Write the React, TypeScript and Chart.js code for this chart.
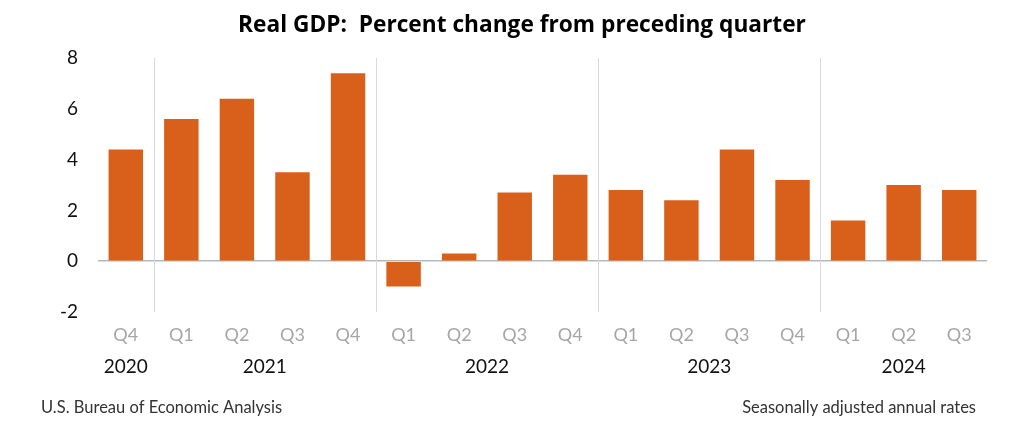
import React, { useEffect, useRef } from "react";
import { Chart, registerables } from "chart.js";

Chart.register(...registerables);

const quarters: string[] = ["Q4", "Q1", "Q2", "Q3", "Q4", "Q1", "Q2", "Q3", "Q4", "Q1", "Q2", "Q3", "Q4", "Q1", "Q2", "Q3"];
const gdpChange: number[] = [4.4, 5.6, 6.4, 3.5, 7.4, -1.0, 0.3, 2.7, 3.4, 2.8, 2.4, 4.4, 3.2, 1.6, 3.0, 2.8];
const years: string[] = ["2020", "2021", "2022", "2023", "2024"];
const yearStart: number[] = [0, 1, 5, 9, 13];
const yearEnd: number[] = [0, 4, 8, 12, 15];
const titleText = "Real GDP:  Percent change from preceding quarter";
const sourceText = "U.S. Bureau of Economic Analysis";
const noteText = "Seasonally adjusted annual rates";

const FONT = "Lato, 'Open Sans', sans-serif";
const TITLE_FONT = "'Open Sans', Lato, sans-serif";

const overlay = {
  id: "overlay",
  afterDraw(chart: any) {
    const ctx = chart.ctx;
    const x = chart.scales.x;
    const area = chart.chartArea;
    ctx.save();
    // separators between years
    ctx.strokeStyle = "#d9d9d9";
    ctx.lineWidth = 1;
    for (let i = 1; i < yearStart.length; i++) {
      const px = Math.round((x.getPixelForValue(yearStart[i] - 1) + x.getPixelForValue(yearStart[i])) / 2) + 0.5;
      ctx.beginPath();
      ctx.moveTo(px, area.top);
      ctx.lineTo(px, area.bottom);
      ctx.stroke();
    }
    // year labels
    ctx.fillStyle = "#111";
    ctx.font = `19px ${FONT}`;
    ctx.textAlign = "center";
    ctx.textBaseline = "middle";
    years.forEach((y, i) => {
      const cx = (x.getPixelForValue(yearStart[i]) + x.getPixelForValue(yearEnd[i])) / 2;
      ctx.fillText(y, cx, 367);
    });
    // title
    ctx.font = `bold 22.7px ${TITLE_FONT}`;
    ctx.fillStyle = "#000";
    ctx.fillText(titleText, 522, 26);
    // footnotes
    ctx.font = `16.5px ${FONT}`;
    ctx.fillStyle = "#333";
    ctx.textAlign = "left";
    ctx.fillText(sourceText, 41, 408);
    ctx.textAlign = "right";
    ctx.fillText(noteText, 976, 408);
    ctx.restore();
  },
};

function GdpChart() {
  const ref = useRef<HTMLCanvasElement | null>(null);
  useEffect(() => {
    if (!ref.current) return;
    const chart = new Chart(ref.current, {
      type: "bar",
      data: {
        labels: quarters,
        datasets: [
          {
            data: gdpChange,
            backgroundColor: "#D9601A",
            barPercentage: 0.62,
            categoryPercentage: 1,
          },
        ],
      },
      options: {
        responsive: false,
        animation: false,
        layout: { padding: { top: 58, right: 37, left: 0, bottom: 0 } },
        plugins: { legend: { display: false }, title: { display: false }, tooltip: { enabled: false } },
        scales: {
          x: {
            grid: { display: false },
            border: { display: false },
            ticks: { color: "#a6a6a6", font: { family: FONT, size: 18 }, padding: 4, maxRotation: 0, autoSkip: false },
            afterFit: (s: any) => { s.height = 123; },
          },
          y: {
            min: -2,
            max: 8,
            ticks: { stepSize: 2, color: "#111", font: { family: FONT, size: 19 }, padding: 20 },
            grid: {
              drawTicks: false,
              lineWidth: 1.5,
              color: (c: any) => (c.tick && c.tick.value === 0 ? "#b4b8bf" : "rgba(0,0,0,0)"),
            },
            border: { display: false },
            afterFit: (s: any) => { s.width = 98; },
          },
        },
      },
      plugins: [overlay],
    });
    return () => chart.destroy();
  }, []);
  return <canvas ref={ref} width={1024} height={435} />;
}

export default function App() {
  return (
    <div style={{ position: "fixed", left: 0, top: 0, width: 1024, height: 435, background: "#fff" }}>
      <GdpChart />
    </div>
  );
}
